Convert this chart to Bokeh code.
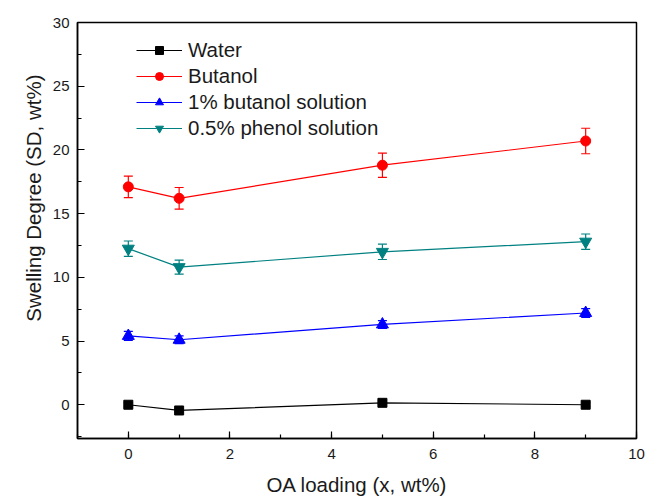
from bokeh.plotting import figure
from bokeh.models import (ColumnDataSource, Whisker, TeeHead, Legend, LegendItem,
                          SingleIntervalTicker, Range1d, Title)
from bokeh.embed import file_html
from bokeh.resources import INLINE

# OA loading (x, wt%)
oa_loading = [0, 1, 5, 9]

# Swelling degree (SD, wt%) for each liquid, with error estimates
water = [0.0, -0.45, 0.15, 0.0]
water_err = [0.15, 0.15, 0.15, 0.15]
butanol = [17.1, 16.2, 18.8, 20.7]
butanol_err = [0.85, 0.85, 0.95, 1.0]
butanol_1pct = [5.4, 5.1, 6.3, 7.2]
butanol_1pct_err = [0.35, 0.3, 0.3, 0.35]
phenol_05pct = [12.25, 10.8, 12.0, 12.8]
phenol_05pct_err = [0.6, 0.55, 0.6, 0.6]

series = [
    ("Water", water, water_err, "#000000", "square", 9),
    ("Butanol", butanol, butanol_err, "#FF0000", "circle", 10),
    ("1% butanol solution", butanol_1pct, butanol_1pct_err, "#0000FF", "triangle", 12),
    ("0.5% phenol solution", phenol_05pct, phenol_05pct_err, "#008080", "inverted_triangle", 12),
]

FONT = "Liberation Sans"

p = figure(width=653, height=498, output_backend="svg", toolbar_location=None,
           x_range=Range1d(-1, 10), y_range=Range1d(-2.65, 30),
           min_border_left=77, min_border_right=17, min_border_top=22, min_border_bottom=59)

p.background_fill_color = "white"
p.border_fill_color = "white"
p.grid.visible = False
p.outline_line_color = "black"
p.outline_line_width = 1.5

p.xaxis.ticker = SingleIntervalTicker(interval=2, num_minor_ticks=2)
p.yaxis.ticker = SingleIntervalTicker(interval=5, num_minor_ticks=2)

for ax in (p.xaxis, p.yaxis):
    ax.axis_line_width = 1.5
    ax.axis_line_color = "black"
    ax.major_tick_in = 7
    ax.major_tick_out = 0
    ax.minor_tick_in = 4
    ax.minor_tick_out = 0
    ax.major_tick_line_width = 1.2
    ax.minor_tick_line_width = 1.2
    ax.major_label_text_font = FONT
    ax.major_label_text_font_size = "15px"
    ax.major_label_text_color = "#1a1a1a"
    ax.axis_label_text_font = FONT
    ax.axis_label_text_font_size = "20.5px"
    ax.axis_label_text_font_style = "normal"
    ax.axis_label_text_color = "#1a1a1a"

p.xaxis.axis_label = "OA loading (x, wt%)"
p.xaxis.major_label_standoff = 10
p.xaxis.axis_label_standoff = 11
p.yaxis.major_label_standoff = 8

# y-axis title sits in the upper part of the axis
ytitle = Title(text="Swelling Degree (SD, wt%)", align="right", offset=52,
               vertical_align="bottom", standoff=10,
               text_font=FONT, text_font_size="20.5px", text_font_style="normal",
               text_color="#1a1a1a")
p.add_layout(ytitle, "left")

items = []
for name, vals, errs, color, marker, size in series:
    src = ColumnDataSource(dict(
        x=oa_loading, y=vals,
        lo=[v - e for v, e in zip(vals, errs)],
        hi=[v + e for v, e in zip(vals, errs)],
    ))
    w = Whisker(source=src, base="x", upper="hi", lower="lo",
                line_color=color, line_width=1.2,
                upper_head=TeeHead(size=9, line_color=color, line_width=1.2),
                lower_head=TeeHead(size=9, line_color=color, line_width=1.2))
    p.add_layout(w)
    ln = p.line("x", "y", source=src, line_color=color, line_width=1.2)
    mk = p.scatter("x", "y", source=src, marker=marker, size=size,
                   fill_color=color, line_color=color)
    items.append(LegendItem(label=name, renderers=[ln, mk]))

legend = Legend(items=items, location=(59, 298), padding=0, margin=0,
                spacing=2, glyph_width=46, glyph_height=20, label_height=20,
                label_standoff=6, border_line_color=None,
                background_fill_alpha=0,
                label_text_font=FONT, label_text_font_size="20.5px",
                label_text_color="#1a1a1a")
p.add_layout(legend)

open("out.html", "w").write(file_html(p, INLINE))
